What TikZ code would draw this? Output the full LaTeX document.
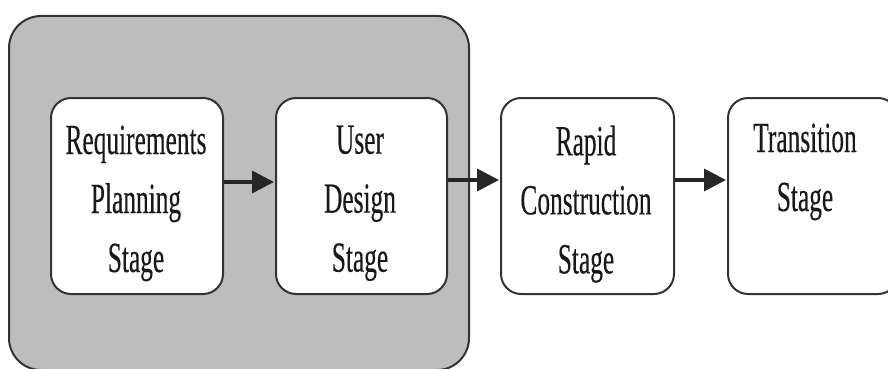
\documentclass[tikz,border=0pt]{standalone}
\usepackage{fontspec}
\setmainfont[FakeStretch=0.59,FakeBold=0.25]{Liberation Serif}
\usetikzlibrary{arrows.meta}
\begin{document}
\begin{tikzpicture}[x=1pt,y=-1pt,
  stagebox/.style={draw=black!80, line width=2pt, fill=white, rounded corners=20pt, inner sep=0pt},
  stagetext/.style={font=\fontsize{43}{59}\selectfont, align=center, anchor=north, text=black!90},
  flow/.style={draw=black!85, line width=3.5pt, -{Triangle[length=22pt,width=22pt]}, shorten >=1pt}]
\useasboundingbox (0,0) rectangle (888,369);
\clip (0,0) rectangle (888,369);
\node[draw=black!80, line width=2pt, fill=black!26, rounded corners=32pt, minimum width=460pt, minimum height=354pt, anchor=north west] (group) at (8,15) {};
\node[stagebox, minimum width=172pt, minimum height=196pt, anchor=north west] (req) at (50,97) {};
\node[stagebox, minimum width=171pt, minimum height=196pt, anchor=north west] (user) at (275,97) {};
\node[stagebox, minimum width=173pt, minimum height=196pt, anchor=north west] (rapid) at (500,97) {};
\node[stagebox, minimum width=170pt, minimum height=196pt, anchor=north west] (trans) at (727,97) {};
\node[stagetext] (reqt) at (136,122) {Requirements\\Planning\\Stage};
\node[stagetext] (usert) at (360,122) {User\\Design\\Stage};
\node[stagetext] (rapidt) at (586,122) {Rapid\\Construction\\Stage};
\node[stagetext] (transt) at (805,120) {Transition\\Stage};
\draw[flow] (req.east |- 0,182) -- (user.west |- 0,182);
\draw[flow] (user.east |- 0,180) -- (rapid.west |- 0,180);
\draw[flow] (rapid.east |- 0,180) -- (trans.west |- 0,180);
\end{tikzpicture}
\end{document}
